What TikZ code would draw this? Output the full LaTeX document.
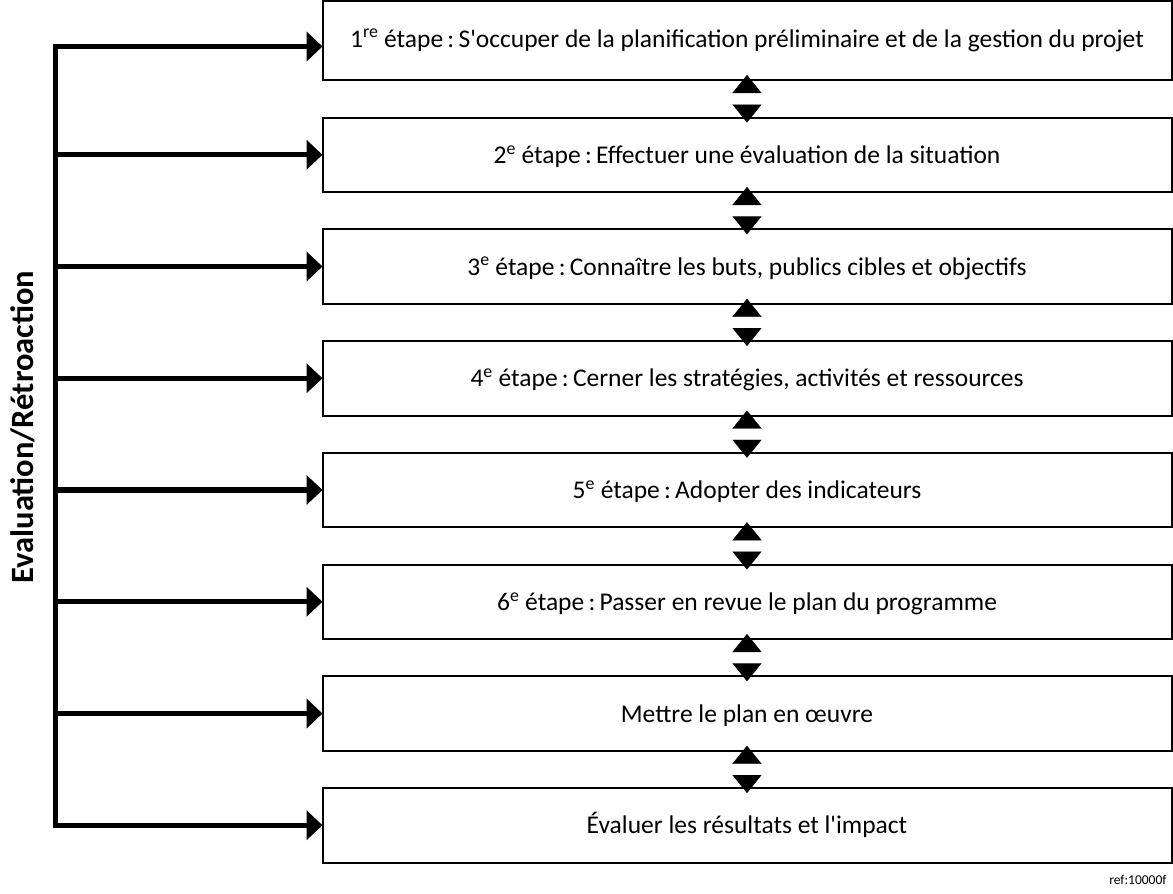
\documentclass[tikz,border=0pt]{standalone}
\usepackage{fontspec}
\setmainfont{Carlito}[Ligatures=TeXOff]
\usetikzlibrary{arrows.meta}
\tikzset{
  stepbox/.style={draw, line width=2pt, rectangle, outer sep=0pt, inner sep=0pt,
    minimum width=849pt, minimum height=74.5pt, text height=17pt, text depth=0pt,
    font=\fontsize{25.5}{28}\selectfont},
  spine/.style={line width=5.3pt, line cap=rect},
  feed/.style={line width=5.3pt, -{Triangle[length=16pt,width=29pt]}},
  link/.style={draw=white, line width=0.2pt,
    {Triangle[length=18pt,width=29pt,color=black]}-{Triangle[length=18pt,width=29pt,color=black]}},
  sidelabel/.style={rotate=90, font=\bfseries\fontsize{32.5}{35}\selectfont},
  reflabel/.style={anchor=east, font=\fontsize{13.5}{15}\selectfont}
}
\begin{document}
\begin{tikzpicture}[x=1pt,y=-1pt]
\useasboundingbox (0,0) rectangle (1173,894);

% the eight steps
\node[stepbox, minimum height=79pt, text height=13pt] (s1) at (747,40.5)
  {1\textsuperscript{re} étape\,:\,S'occuper de la planification préliminaire et de la gestion du projet};
\node[stepbox] (s2) at (747,154.75) {2\textsuperscript{e} étape\,:\,Effectuer une évaluation de la situation};
\node[stepbox] (s3) at (747,266.5) {3\textsuperscript{e} étape\,:\,Connaître les buts, publics cibles et objectifs};
\node[stepbox] (s4) at (747,378.25) {4\textsuperscript{e} étape\,:\,Cerner les stratégies, activités et ressources};
\node[stepbox] (s5) at (747,490) {5\textsuperscript{e} étape\,:\,Adopter des indicateurs};
\node[stepbox] (s6) at (747,601.75) {6\textsuperscript{e} étape\,:\,Passer en revue le plan du programme};
\node[stepbox] (s7) at (747,713.5) {Mettre le plan en œuvre};
\node[stepbox] (s8) at (747,825.25) {Évaluer les résultats et l'impact};

% two-way links between consecutive steps
\foreach \a/\b in {s1/s2,s2/s3,s3/s4,s4/s5,s5/s6,s6/s7,s7/s8}
  \draw[link] ([yshift=5pt]\a.south) -- ([yshift=-5pt]\b.north);

% feedback loop on the left
\coordinate (v1) at (55.5,46.5);
\coordinate (v2) at (55.5,154.75);
\coordinate (v3) at (55.5,266.5);
\coordinate (v4) at (55.5,378.25);
\coordinate (v5) at (55.5,490);
\coordinate (v6) at (55.5,601.75);
\coordinate (v7) at (55.5,713.5);
\coordinate (v8) at (55.5,825.25);
\draw[spine] (v1) -- (v8);
\foreach \i in {1,...,8}
  \draw[feed] (v\i) -- (v\i -| s\i.west);

\node[sidelabel] (fb) at (22.5,427) {Evaluation/Rétroaction};
\node[reflabel] (ref) at (1170,880) {ref:10000f};
\end{tikzpicture}
\end{document}
